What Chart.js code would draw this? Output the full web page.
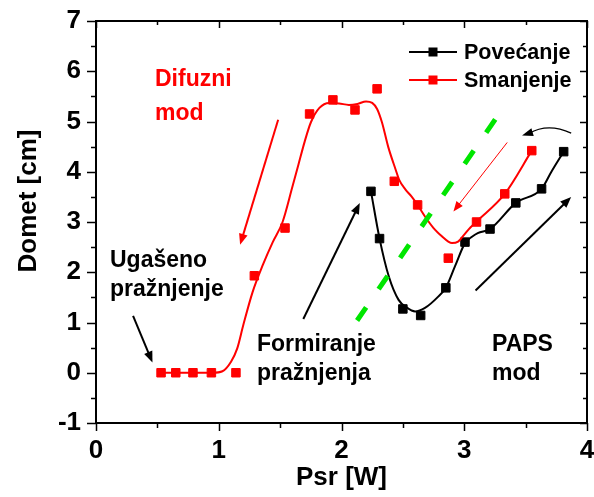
<!DOCTYPE html>
<html>
<head>
<meta charset="utf-8">
<script src="https://cdn.jsdelivr.net/npm/chart.js@4.4.1/dist/chart.umd.min.js"></script>
<style>
  html, body { margin: 0; padding: 0; background: #fff; }
  canvas { display: block; }
</style>
</head>
<body>
<canvas id="dometChart" width="594" height="497"></canvas>
<script>
// Measured points: Povecanje (black) and Smanjenje (red)
const blackX = [2.24, 2.31, 2.50, 2.645, 2.85, 3.006, 3.21, 3.42, 3.63, 3.81];
const blackY = [3.61, 2.67, 1.27, 1.14, 1.69, 2.60, 2.86, 3.38, 3.66, 4.40];
const redX = [0.53, 0.65, 0.79, 0.94, 1.14, 1.29, 1.54, 1.74, 1.93, 2.11, 2.29, 2.43, 2.62, 2.87, 3.10, 3.33, 3.55];
const redY = [0, 0, 0, 0, 0, 1.93, 2.88, 5.15, 5.43, 5.23, 5.65, 3.81, 3.34, 2.28, 3.00, 3.56, 4.42];

// Smoothed trend curves drawn through the points
const redFitX = [0.53, 0.75, 0.95, 1.03, 1.10, 1.15, 1.20, 1.275, 1.36, 1.44, 1.52, 1.60, 1.65, 1.70, 1.75, 1.82, 1.90, 1.98, 2.06, 2.13, 2.20, 2.25, 2.29, 2.33, 2.38, 2.44, 2.47, 2.52, 2.57, 2.62, 2.68, 2.75, 2.82, 2.87, 2.90, 2.95, 3.00, 3.05, 3.10, 3.33, 3.55];
const redFitY = [0, 0, 0, 0.03, 0.22, 0.48, 0.95, 1.60, 2.15, 2.60, 3.00, 3.70, 4.15, 4.60, 4.98, 5.27, 5.37, 5.36, 5.33, 5.35, 5.40, 5.37, 5.25, 4.98, 4.50, 4.05, 3.84, 3.65, 3.51, 3.34, 3.11, 2.88, 2.71, 2.61, 2.58, 2.61, 2.75, 2.89, 3.01, 3.56, 4.42];
const blackFitX = [2.24, 2.31, 2.385, 2.465, 2.53, 2.60, 2.68, 2.79, 2.85, 2.925, 3.006, 3.06, 3.11, 3.21, 3.42, 3.63, 3.71, 3.81];
const blackFitY = [3.61, 2.67, 1.92, 1.45, 1.30, 1.22, 1.29, 1.52, 1.69, 2.12, 2.58, 2.70, 2.78, 2.86, 3.38, 3.66, 4.00, 4.40];

// Dashed boundary line
const boundaryX = [2.127, 3.277];
const boundaryY = [1.04, 5.13];

const seriesNames = ['Povećanje', 'Smanjenje'];

// Arrows: [x0, y0, x1, y1] in data units, head at the second point
const blackArrows = [
  [0.302, 1.134, 0.46, 0.205],
  [1.689, 1.069, 2.149, 3.377],
  [3.092, 1.638, 3.871, 3.497]
];
const redArrow = [1.484, 5.035, 1.174, 2.547];
const redThinArrow = [3.35, 4.583, 2.912, 3.21];
const curvedArrow = [3.871, 4.77, 3.68, 4.98, 3.471, 4.722];

const labelsBlack = [
  { text: 'Ugašeno', x: 110, y: 267 },
  { text: 'pražnjenje', x: 110, y: 296 },
  { text: 'Formiranje', x: 257, y: 351 },
  { text: 'pražnjenja', x: 257, y: 380 },
  { text: 'PAPS', x: 492, y: 351 },
  { text: 'mod', x: 492, y: 380 }
];
const labelsRed = [
  { text: 'Difuzni', x: 155, y: 86 },
  { text: 'mod', x: 155, y: 120 }
];

const FONT = "'Liberation Sans', Arial, sans-serif";
const RED = '#ff0000';
const BLACK = '#000000';
const GREEN = '#00e600';

function toPoints(xs, ys) {
  return xs.map((x, i) => ({ x: x, y: ys[i] }));
}

function drawArrow(ctx, x0, y0, x1, y1, width, head, color) {
  const ang = Math.atan2(y1 - y0, x1 - x0);
  ctx.save();
  ctx.strokeStyle = color;
  ctx.fillStyle = color;
  ctx.lineWidth = width;
  ctx.beginPath();
  ctx.moveTo(x0, y0);
  ctx.lineTo(x1 - Math.cos(ang) * head * 0.8, y1 - Math.sin(ang) * head * 0.8);
  ctx.stroke();
  ctx.beginPath();
  ctx.moveTo(x1, y1);
  ctx.lineTo(x1 - head * Math.cos(ang) + head * 0.4 * Math.sin(ang), y1 - head * Math.sin(ang) - head * 0.4 * Math.cos(ang));
  ctx.lineTo(x1 - head * Math.cos(ang) - head * 0.4 * Math.sin(ang), y1 - head * Math.sin(ang) + head * 0.4 * Math.cos(ang));
  ctx.closePath();
  ctx.fill();
  ctx.restore();
}

// Frame with ticks: outward on left/bottom, inward on top/right
const framePlugin = {
  id: 'frame',
  afterDraw(chart) {
    const ctx = chart.ctx;
    const a = chart.chartArea;
    const xs = chart.scales.x, ys = chart.scales.y;
    ctx.save();
    ctx.strokeStyle = BLACK;
    ctx.lineWidth = 2;
    ctx.strokeRect(a.left, a.top, a.right - a.left, a.bottom - a.top);
    ctx.lineWidth = 1.5;
    ctx.beginPath();
    for (let v = 0; v <= 4.001; v += 0.5) {
      const px = Math.round(xs.getPixelForValue(v)) + 0.5;
      const major = Math.abs(v - Math.round(v)) < 0.01;
      ctx.moveTo(px, a.bottom);
      ctx.lineTo(px, a.bottom + (major ? 8 : 5));
      ctx.moveTo(px, a.top);
      ctx.lineTo(px, a.top + (major ? 7 : 4));
    }
    for (let v = -1; v <= 7.001; v += 0.5) {
      const py = Math.round(ys.getPixelForValue(v)) + 0.5;
      const major = Math.abs(v - Math.round(v)) < 0.01;
      ctx.moveTo(a.left, py);
      ctx.lineTo(a.left - (major ? 9 : 5), py);
      ctx.moveTo(a.right, py);
      ctx.lineTo(a.right - (major ? 7 : 4), py);
    }
    ctx.stroke();

    // axis titles
    ctx.fillStyle = BLACK;
    ctx.font = 'bold 26px ' + FONT;
    ctx.textAlign = 'center';
    ctx.textBaseline = 'alphabetic';
    ctx.fillText('Psr [W]', (a.left + a.right) / 2, 485);
    ctx.save();
    ctx.translate(36, 201);
    ctx.rotate(-Math.PI / 2);
    ctx.fillText('Domet [cm]', 0, 0);
    ctx.restore();
    ctx.restore();
  }
};

// Annotations, arrows and legend
const notesPlugin = {
  id: 'notes',
  afterDatasetsDraw(chart) {
    const ctx = chart.ctx;
    const xs = chart.scales.x, ys = chart.scales.y;
    const X = v => xs.getPixelForValue(v);
    const Y = v => ys.getPixelForValue(v);

    blackArrows.forEach(r => drawArrow(ctx, X(r[0]), Y(r[1]), X(r[2]), Y(r[3]), 2, 11, BLACK));
    drawArrow(ctx, X(redArrow[0]), Y(redArrow[1]), X(redArrow[2]), Y(redArrow[3]), 2, 11, RED);
    drawArrow(ctx, X(redThinArrow[0]), Y(redThinArrow[1]), X(redThinArrow[2]), Y(redThinArrow[3]), 1, 10, RED);

    // curved arrow at top right
    const c = curvedArrow;
    const ex = X(c[4]), ey = Y(c[5]);
    ctx.save();
    ctx.strokeStyle = BLACK;
    ctx.fillStyle = BLACK;
    ctx.lineWidth = 1.3;
    ctx.beginPath();
    ctx.moveTo(X(c[0]), Y(c[1]));
    ctx.quadraticCurveTo(X(c[2]), Y(c[3]), ex + 7, ey - 2);
    ctx.stroke();
    const ang = Math.atan2(2.5, -8);
    ctx.beginPath();
    ctx.moveTo(ex, ey);
    ctx.lineTo(ex - 11 * Math.cos(ang) + 4 * Math.sin(ang), ey - 11 * Math.sin(ang) - 4 * Math.cos(ang));
    ctx.lineTo(ex - 11 * Math.cos(ang) - 4 * Math.sin(ang), ey - 11 * Math.sin(ang) + 4 * Math.cos(ang));
    ctx.closePath();
    ctx.fill();
    ctx.restore();

    // text labels
    ctx.save();
    ctx.font = 'bold 23px ' + FONT;
    ctx.textAlign = 'left';
    ctx.textBaseline = 'alphabetic';
    ctx.fillStyle = BLACK;
    labelsBlack.forEach(l => ctx.fillText(l.text, l.x, l.y));
    ctx.fillStyle = RED;
    labelsRed.forEach(l => ctx.fillText(l.text, l.x, l.y));

    // legend
    const rows = [{ color: BLACK, y: 52 }, { color: RED, y: 80 }];
    ctx.font = 'bold 21.5px ' + FONT;
    ctx.textBaseline = 'middle';
    rows.forEach((r, i) => {
      ctx.strokeStyle = r.color;
      ctx.fillStyle = r.color;
      ctx.lineWidth = 2;
      ctx.beginPath();
      ctx.moveTo(409, r.y);
      ctx.lineTo(457, r.y);
      ctx.stroke();
      ctx.fillRect(433 - 4.5, r.y - 4.5, 9, 9);
      ctx.fillStyle = BLACK;
      ctx.fillText(seriesNames[i], 464, r.y + 1);
    });
    ctx.restore();
  }
};

new Chart(document.getElementById('dometChart'), {
  type: 'scatter',
  data: {
    datasets: [
      {
        label: 'Granica',
        data: toPoints(boundaryX, boundaryY),
        showLine: true,
        borderColor: GREEN,
        borderWidth: 5,
        borderDash: [16, 22],
        borderCapStyle: 'butt',
        pointRadius: 0
      },
      {
        label: seriesNames[1] + ' fit',
        data: toPoints(redFitX, redFitY),
        showLine: true,
        borderColor: RED,
        borderWidth: 2,
        cubicInterpolationMode: 'monotone',
        pointRadius: 0
      },
      {
        label: seriesNames[0] + ' fit',
        data: toPoints(blackFitX, blackFitY),
        showLine: true,
        borderColor: BLACK,
        borderWidth: 2,
        cubicInterpolationMode: 'monotone',
        pointRadius: 0
      },
      {
        label: seriesNames[1],
        data: toPoints(redX, redY),
        showLine: false,
        pointStyle: 'rect',
        pointRadius: 6,
        pointBorderWidth: 1,
        backgroundColor: RED,
        borderColor: RED
      },
      {
        label: seriesNames[0],
        data: toPoints(blackX, blackY),
        showLine: false,
        pointStyle: 'rect',
        pointRadius: 6,
        pointBorderWidth: 1,
        backgroundColor: BLACK,
        borderColor: BLACK
      }
    ]
  },
  options: {
    responsive: false,
    animation: false,
    layout: {
      padding: { left: 0, top: 21, right: 5, bottom: 0 }
    },
    plugins: {
      legend: { display: false },
      tooltip: { enabled: false }
    },
    scales: {
      x: {
        type: 'linear',
        min: 0,
        max: 4,
        afterFit: scale => {
          scale.height = 74;
          scale.paddingLeft = 0;
          scale.paddingRight = 0;
        },
        grid: { display: false, drawTicks: false },
        border: { display: false },
        ticks: {
          stepSize: 1,
          padding: 12,
          color: BLACK,
          font: { family: FONT, size: 26, weight: 'bold' }
        }
      },
      y: {
        type: 'linear',
        min: -1,
        max: 7,
        afterFit: scale => {
          scale.width = 96;
          scale.paddingTop = 0;
          scale.paddingBottom = 0;
        },
        grid: { display: false, drawTicks: false },
        border: { display: false },
        ticks: {
          stepSize: 1,
          padding: 15,
          color: BLACK,
          font: { family: FONT, size: 26, weight: 'bold' }
        }
      }
    }
  },
  plugins: [framePlugin, notesPlugin]
});
</script>
</body>
</html>
